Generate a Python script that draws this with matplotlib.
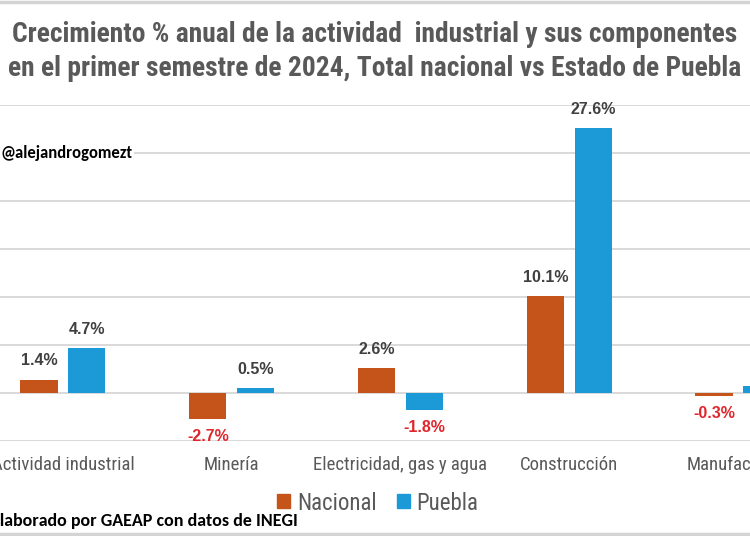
import matplotlib

matplotlib.use("Agg")
import matplotlib.pyplot as plt
import numpy as np
from matplotlib.lines import Line2D
from matplotlib.patches import Patch

# --- data ---------------------------------------------------------------
categorias = ["Actividad industrial", "Minería", "Electricidad, gas y agua",
              "Construcción", "Manufacturas"]
nacional = [1.4, -2.7, 2.6, 10.1, -0.3]
puebla = [4.7, 0.5, -1.8, 27.6, 0.7]

C_NAC = "#c5541a"
C_PUE = "#1b9ad7"
C_GRID = "#d9d9d9"
C_TXT = "#595959"
C_LBL = "#404040"
C_NEG = "#e0262c"

NARROW = ["Roboto Condensed", "Archivo Narrow", "DejaVu Sans"]
CALIBRI = ["Carlito", "Lato", "DejaVu Sans"]

fig = plt.figure(figsize=(7.5, 5.36), dpi=100)
# axes deliberately wider than the canvas: the source screenshot is cropped
ax = fig.add_axes([0.0, 0.1772, 1.0, 0.6269])

x = np.arange(len(categorias))
w = 0.22
off = 0.142
b1 = ax.bar(x - off, nacional, w, color=C_NAC, zorder=3)
b2 = ax.bar(x + off, puebla, w, color=C_PUE, zorder=3)

ax.set_xlim(-0.373, 4.071)
ax.set_ylim(-5, 30)
ax.set_yticks(np.arange(-5, 31, 5))
ax.yaxis.grid(True, color=C_GRID, lw=1.4, zorder=0)
ax.tick_params(axis="y", length=0, labelleft=False)
ax.tick_params(axis="x", length=0, pad=11)
for s in ax.spines.values():
    s.set_visible(False)
ax.set_xticks(x)
ax.set_xticklabels(categorias, family=NARROW, fontsize=13.5, color=C_TXT)

for bars, vals in ((b1, nacional), (b2, puebla)):
    for bar, v in zip(bars, vals):
        cx = bar.get_x() + bar.get_width() / 2
        if v >= 0:
            ax.annotate(f"{v:.1f}%", (cx, v), xytext=(0, 8), textcoords="offset points",
                        ha="center", va="bottom", fontsize=11.5, fontweight="bold",
                        color=C_LBL, family="Liberation Sans")
        else:
            ax.annotate(f"{v:.1f}%", (cx, v), xytext=(0, -7), textcoords="offset points",
                        ha="center", va="top", fontsize=11.5, fontweight="bold",
                        color=C_NEG, family="Liberation Sans")

# title
fig.text(0.5, 1 - 34 / 536, "Crecimiento % anual de la actividad  industrial y sus componentes",
         ha="center", va="center", fontsize=19.8, fontweight="bold", color=C_TXT, family=NARROW)
fig.text(0.5, 1 - 68 / 536, "en el primer semestre de 2024, Total nacional vs Estado de Puebla",
         ha="center", va="center", fontsize=19.8, fontweight="bold", color=C_TXT, family=NARROW)

# watermark and source
fig.text(0.0, 1 - 153 / 536, "@alejandrogomezt", ha="left", va="center", fontsize=12,
         fontweight="bold", color="black", family=CALIBRI,
         bbox=dict(facecolor="white", edgecolor="none", pad=1.5))
fig.text(-9 / 750, 1 - 521 / 536, "Elaborado por GAEAP con datos de INEGI", ha="left",
         va="center", fontsize=13, fontweight="bold", color="black", family=CALIBRI)

# legend
handles = [Patch(color=C_NAC, label="Nacional"), Patch(color=C_PUE, label="Puebla")]
fig.legend(handles=handles, loc="center", bbox_to_anchor=(378 / 750, 1 - 503 / 536),
           ncol=2, frameon=False, prop={"family": NARROW, "size": 16.5},
           labelcolor=C_TXT, handlelength=0.55, handleheight=0.55, handletextpad=0.3,
           columnspacing=0.9)

# thin grey frame edges of the original screenshot
fig.add_artist(Line2D([0, 1], [0.997, 0.997], color="#d4d4d4", lw=2.5, transform=fig.transFigure))
fig.add_artist(Line2D([0, 1], [0.003, 0.003], color="#d4d4d4", lw=2.5, transform=fig.transFigure))

fig.savefig("out.png", dpi=100, facecolor="white")
